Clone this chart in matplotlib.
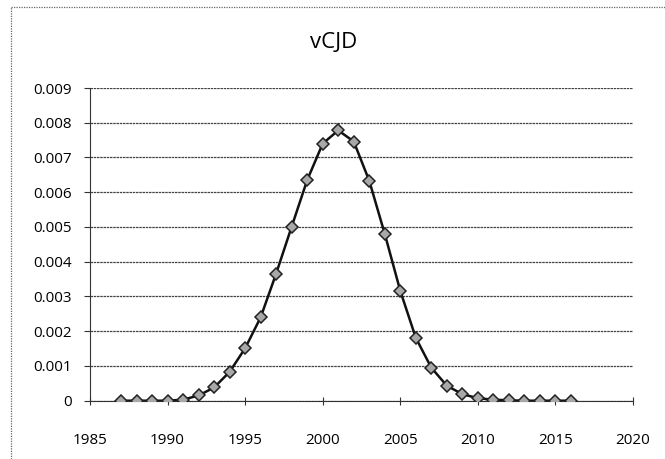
import matplotlib
matplotlib.use("Agg")
import matplotlib.pyplot as plt
from matplotlib.lines import Line2D
import numpy as np

years = list(range(1987, 2017))
values = [0.0, 0.0, 0.0, 0.0, 0.00003, 0.00015, 0.00038, 0.00083, 0.00151, 0.0024,
          0.00366, 0.00501, 0.00635, 0.0074, 0.00778, 0.00746, 0.00633, 0.0048, 0.00316, 0.00181,
          0.00095, 0.00043, 0.00019, 0.00007, 0.00003, 0.00001, 0.0, 0.0, 0.0, 0.0]
title = "vCJD"
xticks = [1985, 1990, 1995, 2000, 2005, 2010, 2015, 2020]
yticks = [0, 0.001, 0.002, 0.003, 0.004, 0.005, 0.006, 0.007, 0.008, 0.009]
ytick_labels = ["0", "0.001", "0.002", "0.003", "0.004", "0.005", "0.006", "0.007", "0.008", "0.009"]

plt.rcParams['font.family'] = ['Open Sans', 'DejaVu Sans']

W, H = 665, 459
fig = plt.figure(figsize=(W / 100, H / 100), dpi=100)
ax = fig.add_axes([90 / W, 1 - 400.7 / H, (633 - 90) / W, (400.7 - 88) / H])

ax.plot(years, values, color='#111111', lw=1.8, marker='D', markersize=6.5,
        markerfacecolor='#a8a8a8', markeredgecolor='#222222', markeredgewidth=1.1, zorder=3)

ax.set_xlim(1985, 2020)
ax.set_ylim(0, 0.009)
ax.set_xticks(xticks)
ax.set_xticklabels([str(t) for t in xticks], fontsize=11)
ax.set_yticks(yticks)
ax.set_yticklabels(ytick_labels, fontsize=11)
ax.yaxis.grid(True, color='#444444', lw=0.9, linestyle=(0, (2, 0.6)))
ax.set_axisbelow(True)
for s in ['top', 'right']:
    ax.spines[s].set_visible(False)
ax.spines['left'].set_color('#333333')
ax.spines['bottom'].set_color('#333333')
ax.tick_params(axis='x', direction='inout', length=6, width=0.8, color='#333333', pad=20)
ax.tick_params(axis='y', direction='out', length=4, width=0.8, color='#333333', pad=9)

fig.text(334 / W, 1 - 42 / H, title, ha='center', va='center', fontsize=16)

# chart area border (top and left, dotted)
fig.add_artist(Line2D([11 / W, 1], [1 - 7 / H, 1 - 7 / H], transform=fig.transFigure,
                      color='#666666', lw=0.9, linestyle=(0, (1, 1))))
fig.add_artist(Line2D([11 / W, 11 / W], [0, 1 - 7 / H], transform=fig.transFigure,
                      color='#666666', lw=0.9, linestyle=(0, (1, 1))))

fig.savefig("out.png", dpi=100)
